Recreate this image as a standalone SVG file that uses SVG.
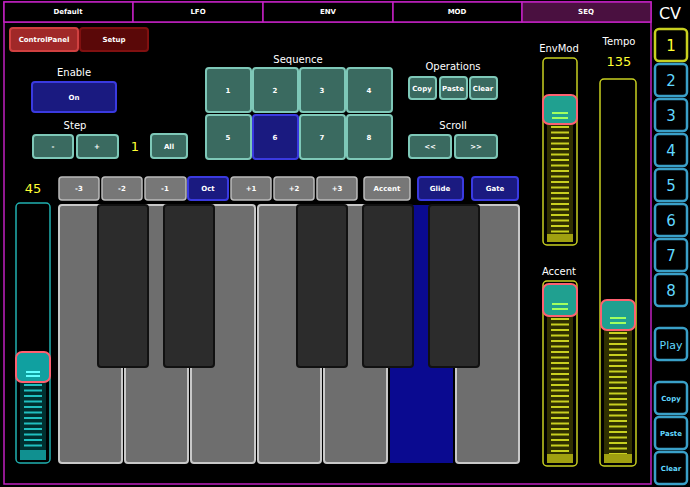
<svg xmlns="http://www.w3.org/2000/svg" width="690" height="487" viewBox="0 0 690 487">
<style>
text{font-family:"DejaVu Sans","Liberation Sans",sans-serif;fill:#fff;text-anchor:middle}
.s{font-size:7px;font-weight:bold}
.l{font-size:10px}
.y{fill:#ffff33;font-size:13px}
.tab{fill:#000;stroke:#c020c0;stroke-width:1.5}
.tl{fill:#3a6a60;stroke:#7ec8b8;stroke-width:2}
.bl{fill:#1a1a80;stroke:#3a3ae0;stroke-width:2}
.gr{fill:#777;stroke:#bbb;stroke-width:1.5}
.wk{fill:#6e6e6e;stroke:#c8c8c8;stroke-width:2}
.bk{fill:#2c2c2c;stroke:#111;stroke-width:2}
.cv{fill:#000;stroke:#3aa0c8;stroke-width:2.5}
.cvt{fill:#60d8ff;font-size:15px}
.ys{fill:#000;stroke:#c8d020;stroke-width:1.5}
.cs{fill:#000;stroke:#20b0b0;stroke-width:1.5}
.h{stroke:#ff6070;stroke-width:2}
</style>
<rect width="690" height="487" fill="#000"/>
<rect x="4" y="2" width="647" height="482" fill="none" stroke="#c020c0" stroke-width="1.5"/>
<line x1="4" y1="22" x2="651" y2="22" stroke="#c020c0" stroke-width="1.5"/>
<g id="tabs">
<rect class="tab" x="4" y="2" width="129" height="20"/><text class="s" x="68" y="14">Default</text>
<rect class="tab" x="133" y="2" width="130" height="20"/><text class="s" x="198" y="14">LFO</text>
<rect class="tab" x="263" y="2" width="130" height="20"/><text class="s" x="328" y="14">ENV</text>
<rect class="tab" x="393" y="2" width="129" height="20"/><text class="s" x="457" y="14">MOD</text>
<rect class="tab" x="522" y="2" width="129" height="20" style="fill:#4a1040"/><text class="s" x="586" y="14">SEQ</text>
</g>
<g id="cv">
<text x="670" y="19" style="font-size:16px">CV</text>
<rect x="655" y="29" width="32" height="32" rx="4" class="cv" style="stroke:#c8d020"/><text class="cvt" x="671" y="51" style="fill:#ffff33">1</text>
<rect x="655" y="64" width="32" height="32" rx="4" class="cv"/><text class="cvt" x="671" y="86">2</text>
<rect x="655" y="99" width="32" height="32" rx="4" class="cv"/><text class="cvt" x="671" y="121">3</text>
<rect x="655" y="134" width="32" height="32" rx="4" class="cv"/><text class="cvt" x="671" y="156">4</text>
<rect x="655" y="169" width="32" height="32" rx="4" class="cv"/><text class="cvt" x="671" y="191">5</text>
<rect x="655" y="204" width="32" height="32" rx="4" class="cv"/><text class="cvt" x="671" y="226">6</text>
<rect x="655" y="239" width="32" height="32" rx="4" class="cv"/><text class="cvt" x="671" y="261">7</text>
<rect x="655" y="274" width="32" height="32" rx="4" class="cv"/><text class="cvt" x="671" y="296">8</text>
<rect x="655" y="328" width="32" height="32" rx="4" class="cv"/><text class="cvt" x="671" y="349" style="font-size:11px">Play</text>
<rect x="655" y="382" width="32" height="32" rx="4" class="cv"/><text class="s" x="671" y="401" style="fill:#60d8ff">Copy</text>
<rect x="655" y="417" width="32" height="32" rx="4" class="cv"/><text class="s" x="671" y="436" style="fill:#60d8ff">Paste</text>
<rect x="655" y="452" width="32" height="32" rx="4" class="cv"/><text class="s" x="671" y="471" style="fill:#60d8ff">Clear</text>
</g>
<g id="top">
<rect x="10" y="28" width="68" height="23" rx="3" fill="#a02828" stroke="#d04040" stroke-width="2"/><text class="s" x="44" y="42">ControlPanel</text>
<rect x="80" y="28" width="68" height="23" rx="3" fill="#5a0808" stroke="#801010" stroke-width="2"/><text class="s" x="114" y="42">Setup</text>
<text class="l" x="74" y="76">Enable</text>
<rect class="bl" x="32" y="82" width="84" height="30" rx="3"/><text class="s" x="74" y="100">On</text>
<text class="l" x="75" y="129">Step</text>
<rect class="tl" x="33" y="135" width="40" height="23" rx="3"/><text class="s" x="53" y="149">-</text>
<rect class="tl" x="77" y="135" width="41" height="23" rx="3"/><text class="s" x="97" y="149">+</text>
<text class="y" x="135" y="151">1</text>
<rect class="tl" x="151" y="134" width="36" height="24" rx="3"/><text class="s" x="169" y="149">All</text>
<text class="l" x="298" y="63">Sequence</text>
<rect class="tl" x="206" y="68" width="45" height="44" rx="3"/><text class="s" x="228" y="93">1</text>
<rect class="tl" x="253" y="68" width="45" height="44" rx="3"/><text class="s" x="275" y="93">2</text>
<rect class="tl" x="300" y="68" width="45" height="44" rx="3"/><text class="s" x="322" y="93">3</text>
<rect class="tl" x="347" y="68" width="45" height="44" rx="3"/><text class="s" x="369" y="93">4</text>
<rect class="tl" x="206" y="115" width="45" height="44" rx="3"/><text class="s" x="228" y="140">5</text>
<rect class="bl" x="253" y="115" width="45" height="44" rx="3"/><text class="s" x="275" y="140">6</text>
<rect class="tl" x="300" y="115" width="45" height="44" rx="3"/><text class="s" x="322" y="140">7</text>
<rect class="tl" x="347" y="115" width="45" height="44" rx="3"/><text class="s" x="369" y="140">8</text>
<text class="l" x="453" y="70">Operations</text>
<rect class="tl" x="409" y="77" width="27" height="22" rx="3"/><text class="s" x="422" y="91">Copy</text>
<rect class="tl" x="440" y="77" width="27" height="22" rx="3"/><text class="s" x="453" y="91">Paste</text>
<rect class="tl" x="470" y="77" width="27" height="22" rx="3"/><text class="s" x="483" y="91">Clear</text>
<text class="l" x="453" y="129">Scroll</text>
<rect class="tl" x="409" y="135" width="42" height="23" rx="3"/><text class="s" x="430" y="149">&lt;&lt;</text>
<rect class="tl" x="455" y="135" width="42" height="23" rx="3"/><text class="s" x="476" y="149">&gt;&gt;</text>
</g>
<g id="octave">
<rect class="gr" x="59" y="177" width="40" height="23" rx="3"/><text class="s" x="79" y="191">-3</text>
<rect class="gr" x="102" y="177" width="40" height="23" rx="3"/><text class="s" x="122" y="191">-2</text>
<rect class="gr" x="145" y="177" width="41" height="23" rx="3"/><text class="s" x="165" y="191">-1</text>
<rect class="bl" x="188" y="177" width="40" height="23" rx="3"/><text class="s" x="208" y="191">Oct</text>
<rect class="gr" x="231" y="177" width="40" height="23" rx="3"/><text class="s" x="251" y="191">+1</text>
<rect class="gr" x="274" y="177" width="40" height="23" rx="3"/><text class="s" x="294" y="191">+2</text>
<rect class="gr" x="317" y="177" width="40" height="23" rx="3"/><text class="s" x="337" y="191">+3</text>
<rect class="gr" x="364" y="177" width="46" height="23" rx="3"/><text class="s" x="387" y="191">Accent</text>
<rect class="bl" x="418" y="177" width="45" height="23" rx="3"/><text class="s" x="440" y="191">Glide</text>
<rect class="bl" x="472" y="177" width="46" height="23" rx="3"/><text class="s" x="495" y="191">Gate</text>
</g>
<g id="keys">
<rect class="wk" x="59" y="205" width="63" height="258" rx="3"/>
<rect class="wk" x="125" y="205" width="63" height="258" rx="3"/>
<rect class="wk" x="191" y="205" width="64" height="258" rx="3"/>
<rect class="wk" x="258" y="205" width="63" height="258" rx="3"/>
<rect class="wk" x="324" y="205" width="63" height="258" rx="3"/>
<rect x="390" y="205" width="63" height="258" fill="#0a0a90"/>
<rect class="wk" x="456" y="205" width="63" height="258" rx="3"/>
<rect class="bk" x="98" y="205" width="50" height="162" rx="3"/>
<rect class="bk" x="164" y="205" width="50" height="162" rx="3"/>
<rect class="bk" x="297" y="205" width="50" height="162" rx="3"/>
<rect class="bk" x="363" y="205" width="50" height="162" rx="3"/>
<rect class="bk" x="429" y="205" width="50" height="162" rx="3"/>
</g>
<g id="sliders">
<text class="y" x="33" y="193">45</text>
<rect class="cs" x="16" y="203" width="34" height="260" rx="4"/>
<rect x="20" y="380" width="26" height="80" fill="#003030"/>
<line x1="33" y1="384" x2="33" y2="452" stroke="#20c0c0" stroke-width="18" stroke-dasharray="2 3.5"/>
<rect x="20" y="450" width="26" height="10" fill="#109090"/>
<rect x="16" y="352" width="34" height="30" rx="6" fill="#10a0a0" class="h"/>
<line x1="26" y1="372" x2="40" y2="372" stroke="#60ffff" stroke-width="2"/><line x1="26" y1="376" x2="40" y2="376" stroke="#60ffff" stroke-width="2"/>
<text class="l" x="559" y="52">EnvMod</text>
<rect class="ys" x="543" y="58" width="34" height="187" rx="4"/>
<rect x="547" y="122" width="26" height="120" fill="#303000"/>
<line x1="560" y1="126" x2="560" y2="235" stroke="#c8d020" stroke-width="18" stroke-dasharray="2 3.5"/>
<rect x="547" y="234" width="26" height="8" fill="#a0a010"/>
<rect x="543" y="95" width="34" height="29" rx="6" fill="#20a090" class="h"/>
<line x1="552" y1="113" x2="568" y2="113" stroke="#a0ff60" stroke-width="2"/><line x1="552" y1="118" x2="568" y2="118" stroke="#a0ff60" stroke-width="2"/>
<text class="l" x="559" y="275">Accent</text>
<rect class="ys" x="543" y="281" width="34" height="185" rx="4"/>
<rect x="547" y="314" width="26" height="149" fill="#303000"/>
<line x1="560" y1="318" x2="560" y2="455" stroke="#c8d020" stroke-width="18" stroke-dasharray="2 3.5"/>
<rect x="547" y="454" width="26" height="9" fill="#a0a010"/>
<rect x="543" y="284" width="34" height="32" rx="6" fill="#20a090" class="h"/>
<line x1="552" y1="304" x2="568" y2="304" stroke="#a0ff60" stroke-width="2"/><line x1="552" y1="309" x2="568" y2="309" stroke="#a0ff60" stroke-width="2"/>
<text class="l" x="619" y="45">Tempo</text>
<text class="y" x="619" y="66">135</text>
<rect class="ys" x="600" y="79" width="36" height="387" rx="4"/>
<rect x="604" y="328" width="28" height="135" fill="#303000"/>
<line x1="618" y1="332" x2="618" y2="455" stroke="#c8d020" stroke-width="18" stroke-dasharray="2 3.5"/>
<rect x="604" y="454" width="28" height="9" fill="#a0a010"/>
<rect x="601" y="300" width="34" height="30" rx="6" fill="#20a090" class="h"/>
<line x1="610" y1="318" x2="626" y2="318" stroke="#a0ff60" stroke-width="2"/><line x1="610" y1="323" x2="626" y2="323" stroke="#a0ff60" stroke-width="2"/>
</g>
</svg>
